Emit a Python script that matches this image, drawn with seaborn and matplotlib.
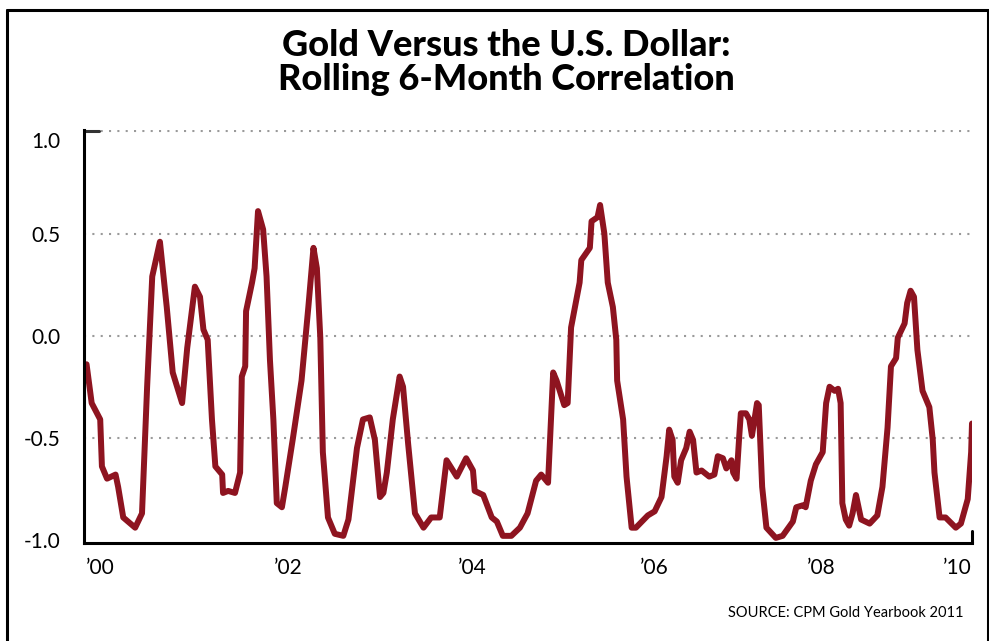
import matplotlib
matplotlib.use("Agg")
import matplotlib.pyplot as plt
import seaborn as sns
from matplotlib.lines import Line2D
from matplotlib.transforms import ScaledTranslation

# rolling 6-month correlation, gold vs US dollar
years = [1999.84, 1999.90, 2000.00, 2000.02, 2000.08, 2000.18, 2000.21, 2000.27, 2000.41, 2000.49,
         2000.55, 2000.61, 2000.70, 2000.78, 2000.85, 2000.96, 2001.02, 2001.11, 2001.17, 2001.21,
         2001.26, 2001.31, 2001.35, 2001.43, 2001.44, 2001.50, 2001.58, 2001.64, 2001.66, 2001.70,
         2001.71, 2001.78, 2001.81, 2001.85, 2001.91, 2001.95, 2001.99, 2002.03, 2002.07, 2002.13,
         2002.17, 2002.26, 2002.36, 2002.44, 2002.50, 2002.54, 2002.58, 2002.61, 2002.67, 2002.75,
         2002.85, 2002.91, 2003.01, 2003.08, 2003.16, 2003.22, 2003.28, 2003.32, 2003.36, 2003.43,
         2003.51, 2003.55, 2003.61, 2003.69, 2003.79, 2003.88, 2003.98, 2004.06, 2004.18, 2004.29,
         2004.37, 2004.39, 2004.49, 2004.59, 2004.65, 2004.72, 2004.82, 2004.92, 2005.01, 2005.11,
         2005.17, 2005.25, 2005.31, 2005.35, 2005.44, 2005.48, 2005.52, 2005.62, 2005.64, 2005.74,
         2005.76, 2005.83, 2005.86, 2005.91, 2005.95, 2006.01, 2006.05, 2006.06, 2006.13, 2006.17,
         2006.23, 2006.28, 2006.42, 2006.50, 2006.58, 2006.64, 2006.67, 2006.71, 2006.73, 2006.77,
         2006.81, 2006.87, 2006.91, 2006.95, 2006.99, 2007.05, 2007.14, 2007.20, 2007.24, 2007.30,
         2007.34, 2007.40, 2007.42, 2007.46, 2007.49, 2007.51, 2007.57, 2007.61, 2007.64, 2007.67,
         2007.70, 2007.72, 2007.76, 2007.81, 2007.92, 2008.00, 2008.12, 2008.16, 2008.24, 2008.27,
         2008.33, 2008.39, 2008.47, 2008.51, 2008.55, 2008.61, 2008.65, 2008.68, 2008.70, 2008.74,
         2008.78, 2008.82, 2008.86, 2008.92, 2009.02, 2009.11, 2009.17, 2009.23, 2009.27, 2009.33,
         2009.35, 2009.43, 2009.46, 2009.50, 2009.54, 2009.58, 2009.64, 2009.72, 2009.76, 2009.78,
         2009.84, 2009.91, 2010.03, 2010.09, 2010.17, 2010.21, 2010.22]

corr = [-0.14, -0.33, -0.41, -0.64, -0.70, -0.68, -0.74, -0.89, -0.94, -0.87,
        -0.25, 0.29, 0.46, 0.14, -0.18, -0.33, -0.06, 0.24, 0.19, 0.03,
        -0.02, -0.41, -0.64, -0.68, -0.77, -0.76, -0.77, -0.67, -0.20, -0.15,
        0.12, 0.26, 0.33, 0.61, 0.52, 0.29, -0.12, -0.41, -0.82, -0.84,
        -0.74, -0.50, -0.22, 0.14, 0.43, 0.33, -0.01, -0.57, -0.89, -0.97,
        -0.98, -0.90, -0.55, -0.41, -0.40, -0.51, -0.79, -0.77, -0.67, -0.41,
        -0.20, -0.25, -0.53, -0.87, -0.94, -0.89, -0.89, -0.61, -0.69, -0.60,
        -0.66, -0.76, -0.78, -0.89, -0.91, -0.98, -0.98, -0.94, -0.87, -0.71,
        -0.68, -0.72, -0.18, -0.22, -0.34, -0.33, 0.04, 0.26, 0.37, 0.43,
        0.56, 0.58, 0.64, 0.50, 0.26, 0.14, -0.02, -0.22, -0.41, -0.69,
        -0.94, -0.94, -0.88, -0.86, -0.79, -0.59, -0.46, -0.51, -0.69, -0.72,
        -0.61, -0.55, -0.47, -0.51, -0.67, -0.66, -0.69, -0.68, -0.59, -0.60,
        -0.65, -0.61, -0.67, -0.70, -0.50, -0.38, -0.38, -0.41, -0.49, -0.41,
        -0.33, -0.34, -0.74, -0.94, -0.99, -0.98, -0.91, -0.84, -0.83, -0.84,
        -0.71, -0.63, -0.57, -0.33, -0.25, -0.27, -0.26, -0.33, -0.82, -0.90,
        -0.93, -0.87, -0.78, -0.90, -0.92, -0.88, -0.74, -0.45, -0.15, -0.11,
        -0.01, 0.06, 0.16, 0.22, 0.19, -0.07, -0.27, -0.35, -0.51, -0.67,
        -0.89, -0.89, -0.94, -0.92, -0.80, -0.57, -0.43]

# the year labels are not evenly spaced in the original
year_ticks = [2000.0, 2002.21, 2004.36, 2006.49, 2008.45, 2010.05]
year_labels = ["\u201900", "\u201902", "\u201904", "\u201906", "\u201908", "\u201910"]
corr_ticks = [-1.0, -0.5, 0.0, 0.5, 1.0]
corr_labels = ["-1.0", "-0.5", "0.0", "0.5", "1.0"]

sns.set_style("white")
plt.rcParams['font.family'] = ['Lato', 'DejaVu Sans']

fig = plt.figure(figsize=(9.89, 6.41), dpi=100)
ax = fig.add_axes([84 / 989, 1 - 543 / 641, 888 / 989, 413 / 641])

for yv in corr_ticks[1:]:
    ax.axhline(yv, color='#9a9a9a', lw=1.5, ls=(0, (1, 3)), zorder=0)

sns.lineplot(x=years, y=corr, ax=ax, color='#8e1420', linewidth=4.3,
             sort=False, estimator=None)
ax.lines[-1].set_solid_joinstyle('round')
ax.lines[-1].set_solid_capstyle('round')

ax.set_xlim(1999.81, 2010.22)
ax.set_ylim(-1.015, 1.007)
ax.set_xticks(year_ticks)
ax.set_xticklabels(year_labels)
ax.set_yticks(corr_ticks)
ax.set_yticklabels(corr_labels)
ax.tick_params(length=0, labelsize=15, colors='black')
ax.tick_params(axis='y', pad=17)
ax.tick_params(axis='x', pad=11)
ax.set_xlabel("")
ax.set_ylabel("")

for s in ['top', 'right']:
    ax.spines[s].set_visible(False)
for s in ['left', 'bottom']:
    ax.spines[s].set_linewidth(2.2)
    ax.spines[s].set_color('black')

# little end marks on the axes
ax.plot([0, 0.017], [1.0, 1.0], color='#333333', lw=2.2,
        transform=ax.get_yaxis_transform(), clip_on=False)
ax.plot([1, 1], [0, 0.03], color='black', lw=2.2,
        transform=ax.transAxes, clip_on=False)

# top label sits a little lower in the original
top = ax.get_yticklabels()[-1]
top.set_transform(top.get_transform() + ScaledTranslation(0, -0.09, fig.dpi_scale_trans))

fig.text(0.512, 1 - 45 / 641, "Gold Versus the U.S. Dollar:", ha='center', va='center',
         fontsize=26, fontweight='black', color='black')
fig.text(0.512, 1 - 80 / 641, "Rolling 6-Month Correlation", ha='center', va='center',
         fontsize=26, fontweight='black', color='black')
fig.text(963 / 989, 1 - 613 / 641, "SOURCE: CPM Gold Yearbook 2011", ha='right',
         va='center', fontsize=10.5, color='black')

# frame round the figure
fig.add_artist(Line2D([7 / 989, 7 / 989], [0, 1 - 10 / 641], color='black', lw=2.2))
fig.add_artist(Line2D([7 / 989, 988 / 989], [1 - 10 / 641, 1 - 10 / 641], color='black', lw=2.2))
fig.add_artist(Line2D([988 / 989, 988 / 989], [0, 1 - 10 / 641], color='black', lw=2.2))

fig.savefig('out.png', dpi=100)
